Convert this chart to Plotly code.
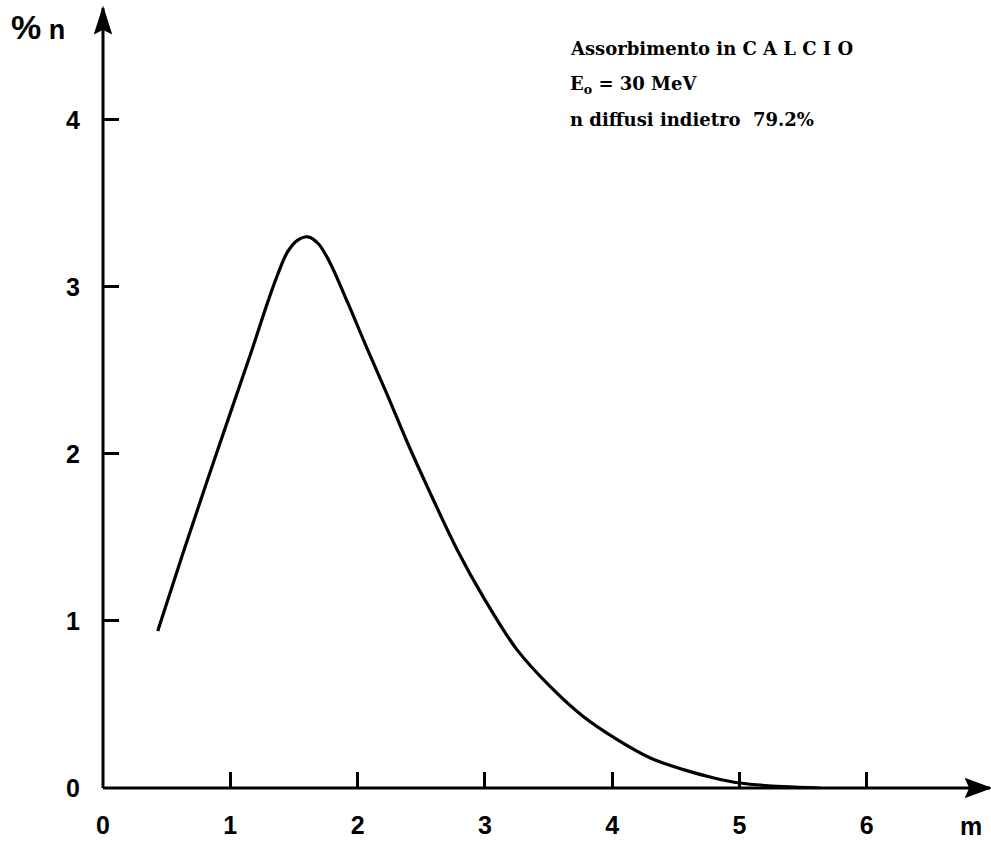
import plotly.graph_objects as go

# Absorption curve in calcium: percentage of neutrons vs depth (m)
depth_m = [0.43, 0.63, 0.89, 1.16, 1.29, 1.37, 1.45, 1.53, 1.61, 1.69, 1.78,
           1.92, 2.07, 2.23, 2.39, 2.55, 2.78, 2.99, 3.25, 3.51, 3.77, 4.04,
           4.30, 4.56, 4.80, 5.00, 5.34, 5.63]
pct_n = [0.94, 1.41, 2.00, 2.60, 2.90, 3.07, 3.21, 3.28, 3.30, 3.26, 3.15,
         2.91, 2.64, 2.36, 2.07, 1.80, 1.43, 1.14, 0.83, 0.61, 0.43, 0.29,
         0.18, 0.11, 0.06, 0.03, 0.008, 0.0]

x_ticks = [0, 1, 2, 3, 4, 5, 6]
y_ticks = [0, 1, 2, 3, 4]
x_max = 6.968
y_max = 4.67

info_lines = [
    "Assorbimento in C A L C I O",
    "E<sub>o</sub> = 30 MeV",
    "n diffusi indietro  79.2%",
]

fig = go.Figure()
fig.add_trace(go.Scatter(
    x=depth_m, y=pct_n, mode="lines",
    line=dict(color="black", width=3.2, shape="spline", smoothing=1.0),
    showlegend=False, hoverinfo="skip",
))

tick_font = dict(family="Liberation Sans, Arial, sans-serif", size=25,
                 color="black", weight="bold")

fig.update_layout(
    width=991, height=843,
    margin=dict(l=103, r=1, t=8, b=55),
    paper_bgcolor="white", plot_bgcolor="white",
    xaxis=dict(
        range=[0, x_max], tickvals=x_ticks, ticktext=[str(v) for v in x_ticks],
        ticks="inside", ticklen=16, tickwidth=3, tickcolor="black",
        showline=False, showgrid=False, zeroline=False, tickfont=tick_font,
        ticklabelstandoff=20,
    ),
    yaxis=dict(
        range=[0, y_max], tickvals=y_ticks, ticktext=[str(v) for v in y_ticks],
        ticks="inside", ticklen=16, tickwidth=3, tickcolor="black",
        showline=False, showgrid=False, zeroline=False, tickfont=tick_font,
        ticklabelstandoff=22,
    ),
)

# Axis lines along the plot edges, with solid arrowheads at their ends
axis_style = dict(color="black", width=3)
fig.add_shape(type="line", xref="paper", yref="paper",
              x0=0, y0=0, x1=1, y1=0, line=axis_style)
fig.add_shape(type="line", xref="paper", yref="paper",
              x0=0, y0=0, x1=0, y1=1, line=axis_style)
fig.add_shape(type="path", xref="paper", yref="paper",
              xsizemode="pixel", ysizemode="pixel", xanchor=1, yanchor=0,
              path="M0,0 L-24,-9 L-20,0 L-24,9 Z",
              fillcolor="black", line=dict(color="black", width=1.5))
fig.add_shape(type="path", xref="paper", yref="paper",
              xsizemode="pixel", ysizemode="pixel", xanchor=0, yanchor=1,
              path="M0,0 L-8,-25 L0,-21 L8,-25 Z",
              fillcolor="black", line=dict(color="black", width=1.5))

# Axis labels
fig.add_annotation(x=-0.0733, y=0.9756, xref="paper", yref="paper",
                   xanchor="center", yanchor="middle",
                   text="<span style='font-size:34px'>%</span> n",
                   showarrow=False,
                   font=dict(family="Liberation Sans, Arial, sans-serif",
                             size=27, color="black", weight="bold"))
fig.add_annotation(x=0.979, y=-0.0487, xref="paper", yref="paper",
                   xanchor="center", yanchor="middle", text="m",
                   showarrow=False,
                   font=dict(family="Liberation Sans, Arial, sans-serif",
                             size=25, color="black", weight="bold"))

# Info text block
for txt, yv in zip(info_lines, [4.43, 4.21, 4.0]):
    fig.add_annotation(x=3.65, y=yv, xref="x", yref="y", text=txt,
                       showarrow=False, xanchor="left",
                       font=dict(family="DejaVu Serif, serif", size=18,
                                 color="black", weight="bold"))

fig.write_html("out.html")
